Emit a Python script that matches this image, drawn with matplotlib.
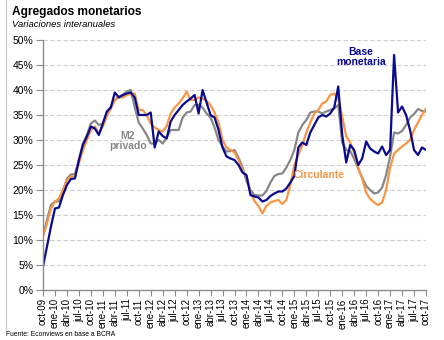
import matplotlib
matplotlib.use("Agg")
import matplotlib.pyplot as plt
from matplotlib.lines import Line2D
from matplotlib.ticker import FuncFormatter

plt.rcParams["font.family"] = ["Liberation Sans", "DejaVu Sans"]

# variaciones interanuales mensuales, oct-09 a oct-17 (%)
base_monetaria = [
    4.7, 8.7, 12.7, 16.3, 16.5, 19.0, 21.0, 22.2, 22.3, 26.0, 29.0, 30.7,
    32.7, 32.3, 31.0, 33.3, 35.7, 36.5, 39.5, 38.5, 39.0, 39.3, 39.5, 38.5,
    35.0, 35.0, 35.0, 35.5, 28.5, 31.7, 30.8, 30.3, 33.7, 35.0, 36.0, 37.0,
    37.7, 38.3, 39.0, 35.3, 40.0, 37.5, 35.0, 34.5, 32.0, 28.5, 26.7, 26.3,
    26.0, 25.0, 23.5, 23.0, 19.0, 18.7, 18.5, 17.7, 18.0, 18.8, 19.3, 19.7,
    19.7, 20.3, 21.5, 22.8, 28.5, 29.5, 29.0, 31.5, 33.0, 34.5, 35.0, 34.7,
    35.3, 36.5, 40.7, 31.0, 25.5, 29.0, 28.0, 25.0, 26.3, 29.7, 28.3, 27.7,
    27.3, 28.7, 27.0, 28.0, 47.0, 35.5, 36.7, 35.0, 32.0, 28.0, 27.0, 28.5,
    28.0,
]
circulante = [
    10.7, 13.3, 16.3, 17.7, 18.3, 20.0, 22.0, 22.7, 22.7, 25.3, 28.0, 30.0,
    32.0, 32.7, 31.3, 32.7, 34.7, 36.3, 38.0, 38.7, 38.5, 39.0, 39.2, 39.3,
    36.0, 36.0, 35.0, 33.3, 32.5, 32.0, 31.7, 32.8, 35.3, 36.5, 37.3, 38.3,
    39.7, 38.0, 38.0, 38.5, 38.3, 37.8, 37.0, 35.5, 33.5, 30.0, 28.5, 28.0,
    27.5, 26.0, 24.0, 22.7, 19.5, 17.8, 16.8, 15.3, 16.8, 17.5, 17.8, 18.0,
    17.2, 18.0, 21.0, 25.0, 27.0, 29.0, 31.5, 33.5, 35.3, 36.0, 37.3, 37.7,
    39.0, 39.3, 38.3, 34.7, 30.7, 29.5, 27.5, 24.5, 22.3, 19.5, 18.2, 17.5,
    17.0, 17.5, 20.0, 24.5, 27.3, 28.0, 28.7, 29.3, 30.0, 32.0, 33.5, 35.0,
    36.3,
]
m2_privado = [
    11.0, 14.0, 17.0, 17.7, 17.7, 19.7, 22.3, 23.1, 23.2, 26.0, 29.3, 31.0,
    33.3, 33.9, 33.0, 33.3, 35.3, 36.7, 37.9, 38.7, 39.0, 39.7, 40.0, 36.5,
    33.5, 32.3, 31.0, 29.3, 29.3, 30.0, 29.3, 30.5, 32.0, 32.0, 32.0, 34.5,
    35.5, 35.7, 37.0, 37.0, 36.5, 35.3, 34.5, 32.5, 30.0, 28.7, 27.7, 27.8,
    28.0, 26.5, 24.5, 21.8, 20.0, 19.0, 18.9, 18.9, 19.8, 21.5, 22.8, 23.2,
    23.3, 24.5, 26.0, 28.0, 31.5, 33.0, 34.0, 35.5, 35.7, 35.7, 35.3, 35.7,
    36.0, 36.3, 37.0, 29.5, 28.0, 27.8, 26.2, 24.3, 22.5, 20.8, 20.0, 19.3,
    19.5, 20.5, 23.0, 26.7, 31.5, 31.3, 31.8, 33.0, 34.5, 35.2, 36.2, 35.8,
    35.7,
]

etiquetas_x = [
    "oct-09", "ene-10", "abr-10", "jul-10", "oct-10", "ene-11", "abr-11",
    "jul-11", "oct-11", "ene-12", "abr-12", "jul-12", "oct-12", "ene-13",
    "abr-13", "jul-13", "oct-13", "ene-14", "abr-14", "jul-14", "oct-14",
    "ene-15", "abr-15", "jul-15", "oct-15", "ene-16", "abr-16", "jul-16",
    "oct-16", "ene-17", "abr-17", "jul-17", "oct-17",
]
ticks_y = [0, 5, 10, 15, 20, 25, 30, 35, 40, 45, 50]

AZUL = "#0A0A8E"
GRIS = "#878787"
NARANJA = "#F79646"
EJE = "#8C8C8C"

meses = range(len(base_monetaria))

fig = plt.figure(figsize=(4.44, 3.40), dpi=100)
ax = fig.add_axes([43 / 444, 1 - 290 / 340, 383 / 444, 250 / 340])

ax.plot(meses, m2_privado, color=GRIS, lw=1.6, solid_joinstyle="round")
ax.plot(meses, circulante, color=NARANJA, lw=1.6, solid_joinstyle="round")
ax.plot(meses, base_monetaria, color=AZUL, lw=1.6, solid_joinstyle="round")

ax.set_xlim(0, len(base_monetaria) - 1)
ax.set_ylim(0, 50)
ax.set_xticks(range(0, len(base_monetaria), 3))
ax.set_xticklabels(etiquetas_x, rotation=90, fontsize=7)
ax.set_yticks(ticks_y)
ax.yaxis.set_major_formatter(FuncFormatter(lambda v, p: f"{v:.0f}%"))
ax.tick_params(axis="y", labelsize=7.5, length=5, color=EJE, pad=2)
ax.tick_params(axis="x", length=4, color=EJE, pad=2)

ax.grid(axis="y", color="#D0D0D0", ls=(0, (4, 2)), lw=0.8)
ax.set_axisbelow(True)
for lado in ["top", "right"]:
    ax.spines[lado].set_visible(False)
for lado in ["left", "bottom"]:
    ax.spines[lado].set_color(EJE)
    ax.spines[lado].set_linewidth(1.0)

# rotulos de las series
ax.text(79.7, 46.6, "Base\nmonetaria", color=AZUL, fontsize=7.5,
        fontweight="bold", ha="center", va="center", linespacing=1.05)
ax.text(21.3, 29.8, "M2\nprivado", color=GRIS, fontsize=7.5,
        fontweight="bold", ha="center", va="center", linespacing=1.05)
ax.text(69.2, 22.9, "Circulante", color=NARANJA, fontsize=7.5,
        fontweight="bold", ha="center", va="center")

fig.text(12 / 444, 1 - 15 / 340, "Agregados monetarios", fontsize=8.6,
         fontweight="bold", va="baseline")
fig.text(12 / 444, 1 - 26.7 / 340, "Variaciones interanuales", fontsize=6.8,
         style="italic", va="baseline")
fig.text(6 / 444, 1 - 336.5 / 340, "Fuente: Econviews en base a BCRA",
         fontsize=4.9, va="baseline")

fig.add_artist(Line2D([6 / 444, 6 / 444], [1 - 330 / 340, 1],
                      color="#C8C8C8", lw=0.8))

fig.savefig("out.png", dpi=100)
